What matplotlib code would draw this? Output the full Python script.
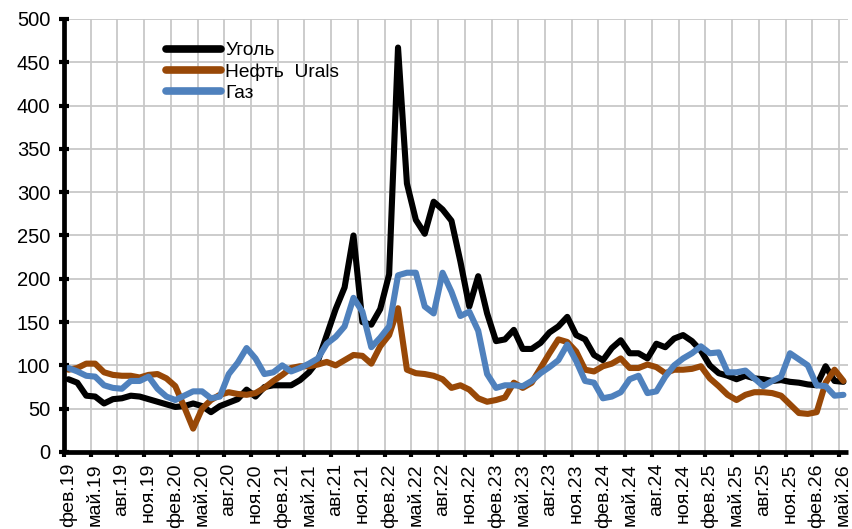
import numpy as np
import matplotlib
matplotlib.use('Agg')
import matplotlib.pyplot as plt
from matplotlib.ticker import FixedLocator, NullFormatter

plt.rcParams['font.family'] = ['Liberation Sans', 'DejaVu Sans']

# monthly index values, фев.19 .. май.26
coal = [84, 80, 65, 64, 56, 61, 62, 65, 64, 61, 58, 55, 52, 53, 56, 53,
        46, 53, 57, 61, 72, 64, 75, 77, 77, 77, 83, 92, 105, 135, 165, 190,
        250, 150, 147, 165, 205, 467, 310, 268, 252, 289, 280, 267, 220, 168,
        203, 160, 128, 130, 141, 119, 119, 126, 138, 145, 156, 135, 130, 112,
        106, 120, 129, 114, 114, 108, 125, 121, 131, 135, 128, 117, 100, 91,
        88, 84, 88, 85, 84, 82, 83, 81, 80, 78, 77, 99, 82, 81]
oil = [95, 97, 102, 102, 92, 89, 88, 88, 86, 89, 90, 85, 76, 52, 27, 50,
       60, 66, 69, 67, 66, 68, 74, 82, 89, 97, 99, 99, 101, 104, 100, 106,
       112, 111, 102, 122, 135, 166, 95, 91, 90, 88, 84, 74, 77, 72,
       62, 58, 60, 63, 80, 74, 80, 97, 114, 130, 127, 116, 95, 93,
       99, 102, 108, 97, 97, 101, 98, 91, 95, 95, 96, 99, 85, 76,
       66, 60, 66, 69, 69, 68, 65, 55, 45, 44, 46, 80, 95, 82]
gas = [97, 93, 88, 87, 77, 74, 73, 82, 82, 87, 73, 64, 60, 65, 70, 70,
       62, 64, 90, 103, 120, 108, 90, 92, 100, 93, 97, 102, 108, 125, 133, 145,
       178, 162, 121, 132, 145, 204, 207, 207, 168, 160, 207, 185, 157, 162,
       140, 90, 74, 77, 77, 76, 82, 91, 98, 106, 124, 105, 82, 80,
       62, 64, 69, 84, 88, 68, 70, 87, 100, 108, 114, 122, 114, 115,
       92, 92, 94, 85, 76, 82, 87, 114, 107, 100, 77, 76, 65, 66]

tick_labels = ['фев.19', 'май.19', 'авг.19', 'ноя.19',
               'фев.20', 'май.20', 'авг.20', 'ноя.20',
               'фев.21', 'май.21', 'авг.21', 'ноя.21',
               'фев.22', 'май.22', 'авг.22', 'ноя.22',
               'фев.23', 'май.23', 'авг.23', 'ноя.23',
               'фев.24', 'май.24', 'авг.24', 'ноя.24',
               'фев.25', 'май.25', 'авг.25', 'ноя.25',
               'фев.26', 'май.26']

x = np.arange(len(coal))

fig = plt.figure(figsize=(8.53, 5.29), dpi=100)
ax = fig.add_axes([0.075, 0.1456, 0.919, 0.8185])

style = dict(linewidth=4.4, solid_joinstyle='round', solid_capstyle='round')
ax.plot(x, coal, color='#000000', label='Уголь', **style)
ax.plot(x, oil, color='#984807', label='Нефть  Urals', **style)
ax.plot(x, gas, color='#4f81bd', label='Газ', **style)

ax.set_xlim(-0.5, len(coal) - 0.5)
ax.set_ylim(0, 500)
ax.set_yticks(np.arange(0, 501, 50))

# ticks/grid between categories, labels centred on categories
label_pos = x[::3]
ax.xaxis.set_major_locator(FixedLocator(label_pos - 0.5))
ax.xaxis.set_major_formatter(NullFormatter())
ax.xaxis.set_minor_locator(FixedLocator(label_pos))
ax.set_xticklabels(tick_labels, minor=True, rotation=90, fontsize=14, va='top', ha='center')

ax.tick_params(axis='x', which='major', direction='out', length=3.6, width=3)
ax.tick_params(axis='x', which='minor', length=0, pad=8)
ax.tick_params(axis='y', direction='inout', length=7.7, width=3, labelsize=14.5, pad=6)

ax.grid(True, which='major', color='#c8c8c8', linewidth=1.3)
ax.set_axisbelow(True)

for side in ['top', 'right']:
    ax.spines[side].set_visible(False)
for side in ['left', 'bottom']:
    ax.spines[side].set_linewidth(3.4)
    ax.spines[side].set_capstyle('butt')

leg = ax.legend(loc='upper left', bbox_to_anchor=(0.12, 0.965), frameon=False,
                fontsize=13.8, handlelength=2.9, handletextpad=0.2,
                labelspacing=0.2, borderaxespad=0)
for line in leg.get_lines():
    line.set_linewidth(5.5)
    line.set_solid_capstyle('round')

fig.savefig('out.png', dpi=100)
